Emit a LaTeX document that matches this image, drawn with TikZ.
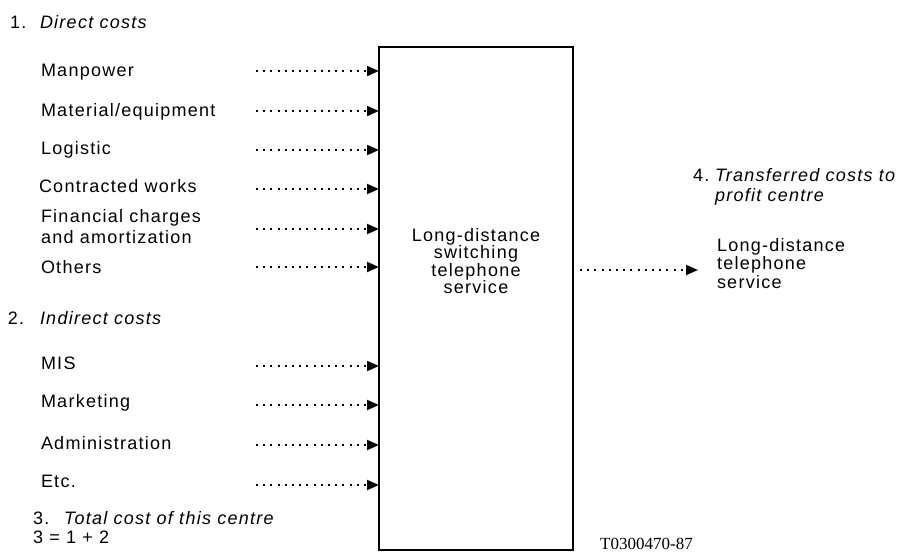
\documentclass[tikz,border=0pt]{standalone}
\usepackage{fontspec}
\setmainfont{Liberation Sans}[LetterSpace=7]
\newfontfamily\codefont{Liberation Serif}
\usetikzlibrary{arrows.meta}
\begin{document}
\begin{tikzpicture}[x=1pt,y=-1pt,
  lab/.style={anchor=base west, inner sep=0pt, outer sep=0pt, align=left,
    font=\fontsize{18}{21}\selectfont},
  head/.style={lab, font=\fontsize{18}{20}\selectfont\itshape},
  conn/.style={line width=1.9pt, dash pattern=on 1.9pt off 5.3pt,
    -{Triangle[length=12pt,width=10pt]}},
  boxst/.style={draw, line width=1.8pt, inner sep=0pt, outer sep=0pt,
    minimum width=194pt, minimum height=503pt},
]
\useasboundingbox (0,0) rectangle (908,557);

\node[boxst] (box) at (476,298.5) {};
\node[align=center, inner sep=0pt, font=\fontsize{18}{17.5}\selectfont] (boxtext) at (476,261)
  {Long-distance\\switching\\telephone\\service};

% headings
\node[lab] (n1) at (10,28) {1.};
\node[head] (h1) at (40,28) {Direct costs};
\node[lab] (n2) at (8,324) {2.};
\node[head] (h2) at (40,324) {Indirect costs};
\node[lab] (n3) at (33,524) {3.};
\node[head] (h3) at (64,524) {Total cost of this centre};
\node[lab] (eq) at (33,543) {3 = 1 + 2};

% cost items
\node[lab] (l1) at (41,76) {Manpower};
\node[lab] (l2) at (41,116) {Material/equipment};
\node[lab] (l3) at (41,154) {Logistic};
\node[lab] (l4) at (39,192) {Contracted works};
\node[lab] (l5) at (41,243) {Financial charges\\and amortization};
\node[lab] (l6) at (41,273) {Others};
\node[lab] (l7) at (41,369) {MIS};
\node[lab] (l8) at (41,407) {Marketing};
\node[lab] (l9) at (41,449) {Administration};
\node[lab] (l10) at (41,487) {Etc.};

% arrow starts
\foreach \i/\y in {1/71,2/111,3/150,4/189,5/229,6/267,7/366,8/405,9/445,10/485}{
  \coordinate (s\i) at (256,\y);
  \draw[conn] (s\i) -- (s\i -| box.west);
}

% right side
\node[lab] (n4) at (693,181) {4.};
\node[head] (h4) at (715,201) {Transferred costs to\\profit centre};
\node[lab, font=\fontsize{18}{18.5}\selectfont] (out) at (717,288) {Long-distance\\telephone\\service};
\coordinate (o1) at (box.east |- 0,270);
\coordinate (o2) at (698,270);
\draw[conn] (o1) ++(7,0) coordinate (o1s) -- (o2);

\node[anchor=base west, inner sep=0pt, font=\codefont\fontsize{17}{19}\selectfont] (code) at (600,549) {T0300470-87};
\end{tikzpicture}
\end{document}
